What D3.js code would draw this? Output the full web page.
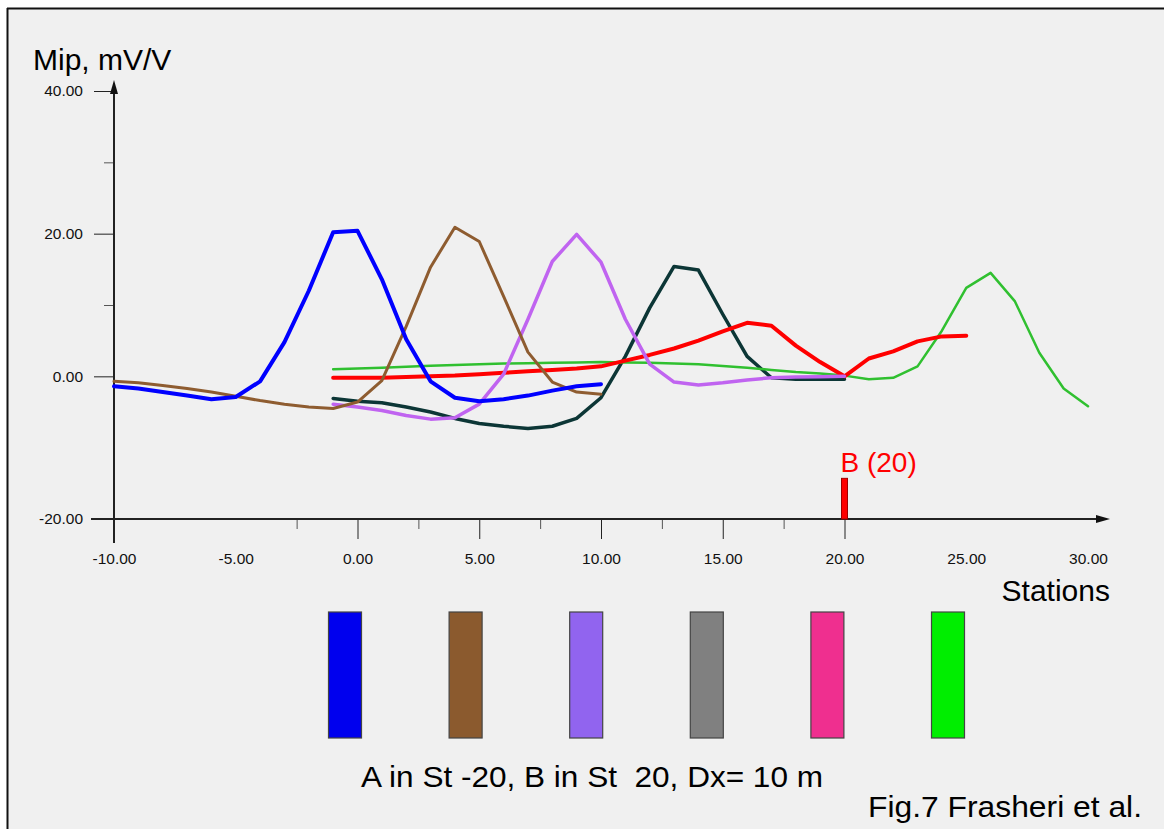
<!DOCTYPE html>
<html>
<head>
<meta charset="utf-8">
<script src="https://cdn.jsdelivr.net/npm/d3@7"></script>
<style>
  html, body { margin: 0; padding: 0; background: #ffffff; }
  svg { display: block; font-family: "Liberation Sans", Arial, sans-serif; }
</style>
</head>
<body>
<svg id="chart" width="1164" height="829"></svg>
<script>
// Apparent chargeability profiles, Mip (mV/V) along stations
const stationsFull = d3.range(-10, 11);          // -10 .. 10
const stationsShort = d3.range(-1, 21);          // -1 .. 20
const stationsRed = d3.range(-1, 26);            // -1 .. 25
const stationsGreen = d3.range(-1, 31);          // -1 .. 30

const blueValues = [-1.4, -1.7, -2.2, -2.7, -3.2, -2.9, -0.7, 4.8, 12.0, 20.2, 20.4,
                    13.6, 5.2, -0.7, -3.0, -3.5, -3.2, -2.7, -2.0, -1.4, -1.1];
const brownValues = [-0.7, -0.9, -1.3, -1.7, -2.2, -2.8, -3.4, -3.9, -4.3, -4.5, -3.6,
                     -0.6, 7.0, 15.3, 20.9, 18.9, 11.2, 3.4, -0.8, -2.2, -2.5];
const purpleValues = [-3.9, -4.3, -4.8, -5.5, -6.0, -5.8, -3.9, 0.3, 8.0, 16.1, 19.9,
                      16.0, 8.0, 1.7, -0.8, -1.2, -0.9, -0.5, -0.2, -0.1, -0.05, 0.0];
const darkValues = [-3.1, -3.5, -3.7, -4.3, -5.0, -5.9, -6.6, -7.0, -7.3, -7.0, -5.9,
                    -3.0, 2.8, 9.6, 15.4, 14.9, 8.7, 2.8, -0.2, -0.4, -0.4, -0.4];
const redValues = [-0.2, -0.2, -0.2, -0.1, 0.0, 0.1, 0.3, 0.5, 0.7, 0.9, 1.1, 1.4,
                   2.2, 3.0, 3.9, 5.0, 6.3, 7.5, 7.1, 4.3, 2.0, 0.0,
                   2.5, 3.5, 4.9, 5.6, 5.7];
const greenValues = [1.0, 1.1, 1.2, 1.35, 1.5, 1.6, 1.7, 1.8, 1.85, 1.9, 1.95, 2.0,
                     1.95, 1.9, 1.8, 1.7, 1.45, 1.2, 0.9, 0.6, 0.4, 0.1,
                     -0.4, -0.2, 1.4, 6.4, 12.4, 14.5, 10.5, 3.3, -1.7, -4.2];

// Drawn back to front
const seriesList = [
  { name: "dark",   x: stationsShort, y: darkValues,   color: "#0c3636", width: 3.5 },
  { name: "green",  x: stationsGreen, y: greenValues,  color: "#30c030", width: 2.5 },
  { name: "red",    x: stationsRed,   y: redValues,    color: "#ff0000", width: 4 },
  { name: "purple", x: stationsShort, y: purpleValues, color: "#c064f0", width: 3.5 },
  { name: "brown",  x: stationsFull,  y: brownValues,  color: "#8e5c30", width: 3 },
  { name: "blue",   x: stationsFull,  y: blueValues,   color: "#0000ff", width: 4 }
];

const xLabelValues = [-10, -5, 0, 5, 10, 15, 20, 25, 30];
const xMajorTicks = [0, 5, 10, 15, 20];
const xMinorTicks = [-2.5, 2.5, 7.5, 12.5, 17.5];
const yLabelValues = [-20, 0, 20, 40];
const yMinorTicks = [10, 30];

// Electrode B position and marker height
const electrodeB = 20;
const markerTop = -14.3;

// Legend swatch colours
const legendColors = ["#0000ee", "#8b5a2e", "#9164ef", "#808080", "#ef2f8f", "#00ee00"];

const svg = d3.select("#chart");

// Panel background with top/left frame
svg.append("rect").attr("x", 8).attr("y", 9).attr("width", 1164 - 8).attr("height", 829 - 9)
  .attr("fill", "#f0f0f0");
svg.append("line").attr("x1", 7).attr("x2", 1164).attr("y1", 8.5).attr("y2", 8.5)
  .attr("stroke", "#111").attr("stroke-width", 2);
svg.append("line").attr("x1", 7.5).attr("x2", 7.5).attr("y1", 8).attr("y2", 829)
  .attr("stroke", "#111").attr("stroke-width", 2);

const x = d3.scaleLinear().domain([-10, 30]).range([114, 1088]);
const y = d3.scaleLinear().domain([-20, 40]).range([519, 91]);

const fmt = d => d.toFixed(2);
const axisColor = "#222";

// X axis: labels, major and minor ticks
const gx = svg.append("g").attr("transform", `translate(0,${y(-20)})`);
gx.append("g").call(d3.axisBottom(x).tickValues(xLabelValues).tickSize(0).tickPadding(34).tickFormat(fmt))
  .call(g => g.select(".domain").remove())
  .call(g => g.selectAll("text").attr("font-size", 15.5).attr("fill", "#111")
    .attr("font-family", "Liberation Sans, Arial, sans-serif"));
gx.append("g").call(d3.axisBottom(x).tickValues(xMajorTicks).tickSize(20).tickFormat(""))
  .call(g => g.select(".domain").remove())
  .call(g => g.selectAll("line").attr("stroke", axisColor));
gx.append("g").call(d3.axisBottom(x).tickValues(xMinorTicks).tickSize(10).tickFormat(""))
  .call(g => g.select(".domain").remove())
  .call(g => g.selectAll("line").attr("stroke", "#555"));

// Y axis: labels, major and minor ticks
const gy = svg.append("g").attr("transform", `translate(${x(-10)},0)`);
gy.append("g").call(d3.axisLeft(y).tickValues(yLabelValues).tickSize(20).tickPadding(11).tickFormat(fmt))
  .call(g => g.select(".domain").remove())
  .call(g => g.selectAll("line").attr("stroke", axisColor))
  .call(g => g.selectAll("text").attr("font-size", 15.5).attr("fill", "#111")
    .attr("font-family", "Liberation Sans, Arial, sans-serif"));
gy.append("g").call(d3.axisLeft(y).tickValues(yMinorTicks).tickSize(10).tickFormat(""))
  .call(g => g.select(".domain").remove())
  .call(g => g.selectAll("line").attr("stroke", "#555"));

// Axis lines with arrowheads
const xTip = 1110, yTip = 80;
svg.append("line").attr("x1", 91).attr("x2", xTip - 4).attr("y1", y(-20)).attr("y2", y(-20))
  .attr("stroke", axisColor).attr("stroke-width", 2);
svg.append("path")
  .attr("d", `M${xTip},${y(-20)} L${xTip - 14},${y(-20) - 4} L${xTip - 14},${y(-20) + 4} Z`)
  .attr("fill", "#111");
svg.append("line").attr("x1", x(-10)).attr("x2", x(-10)).attr("y1", 543).attr("y2", yTip + 4)
  .attr("stroke", axisColor).attr("stroke-width", 2);
svg.append("path")
  .attr("d", `M${x(-10)},${yTip} L${x(-10) - 4},${yTip + 14} L${x(-10) + 4},${yTip + 14} Z`)
  .attr("fill", "#111");

// Axis titles
svg.append("text").attr("x", 33).attr("y", 70).attr("font-size", 30).attr("fill", "#000")
  .text("Mip, mV/V");
svg.append("text").attr("x", 1110).attr("y", 601).attr("font-size", 30).attr("fill", "#000")
  .attr("text-anchor", "end").text("Stations");

// Profile curves
const line = d3.line().x(d => x(d[0])).y(d => y(d[1]));
svg.append("g").selectAll("path").data(seriesList).join("path")
  .attr("d", s => line(s.x.map((st, i) => [st, s.y[i]])))
  .attr("fill", "none")
  .attr("stroke", s => s.color)
  .attr("stroke-width", s => s.width)
  .attr("stroke-linejoin", "round")
  .attr("stroke-linecap", "round");

// Electrode B marker
svg.append("rect")
  .attr("x", x(electrodeB) - 3).attr("y", y(markerTop))
  .attr("width", 6).attr("height", y(-20) - y(markerTop))
  .attr("fill", "#ff0000").attr("stroke", "#a00000").attr("stroke-width", 1);
svg.append("text").attr("x", x(electrodeB) - 4).attr("y", 472)
  .attr("font-size", 28).attr("fill", "#ff0000").text(`B (${electrodeB})`);

// Colour swatches
const legendX = d3.scalePoint().domain(d3.range(legendColors.length)).range([345, 948]);
svg.append("g").selectAll("rect").data(legendColors).join("rect")
  .attr("x", (c, i) => legendX(i) - 16.5)
  .attr("y", 612)
  .attr("width", 33)
  .attr("height", 126)
  .attr("fill", c => c)
  .attr("stroke", "#444")
  .attr("stroke-width", 1.2);

// Captions
svg.append("text").attr("x", 361).attr("y", 787).attr("font-size", 30)
  .attr("textLength", 462).attr("lengthAdjust", "spacingAndGlyphs")
  .attr("fill", "#000").text("A in St -20, B in St  20, Dx= 10 m").style("white-space", "pre");
svg.append("text").attr("x", 868).attr("y", 817).attr("font-size", 30)
  .attr("textLength", 274).attr("lengthAdjust", "spacingAndGlyphs")
  .attr("fill", "#000").text("Fig.7 Frasheri et al.");
</script>
</body>
</html>
